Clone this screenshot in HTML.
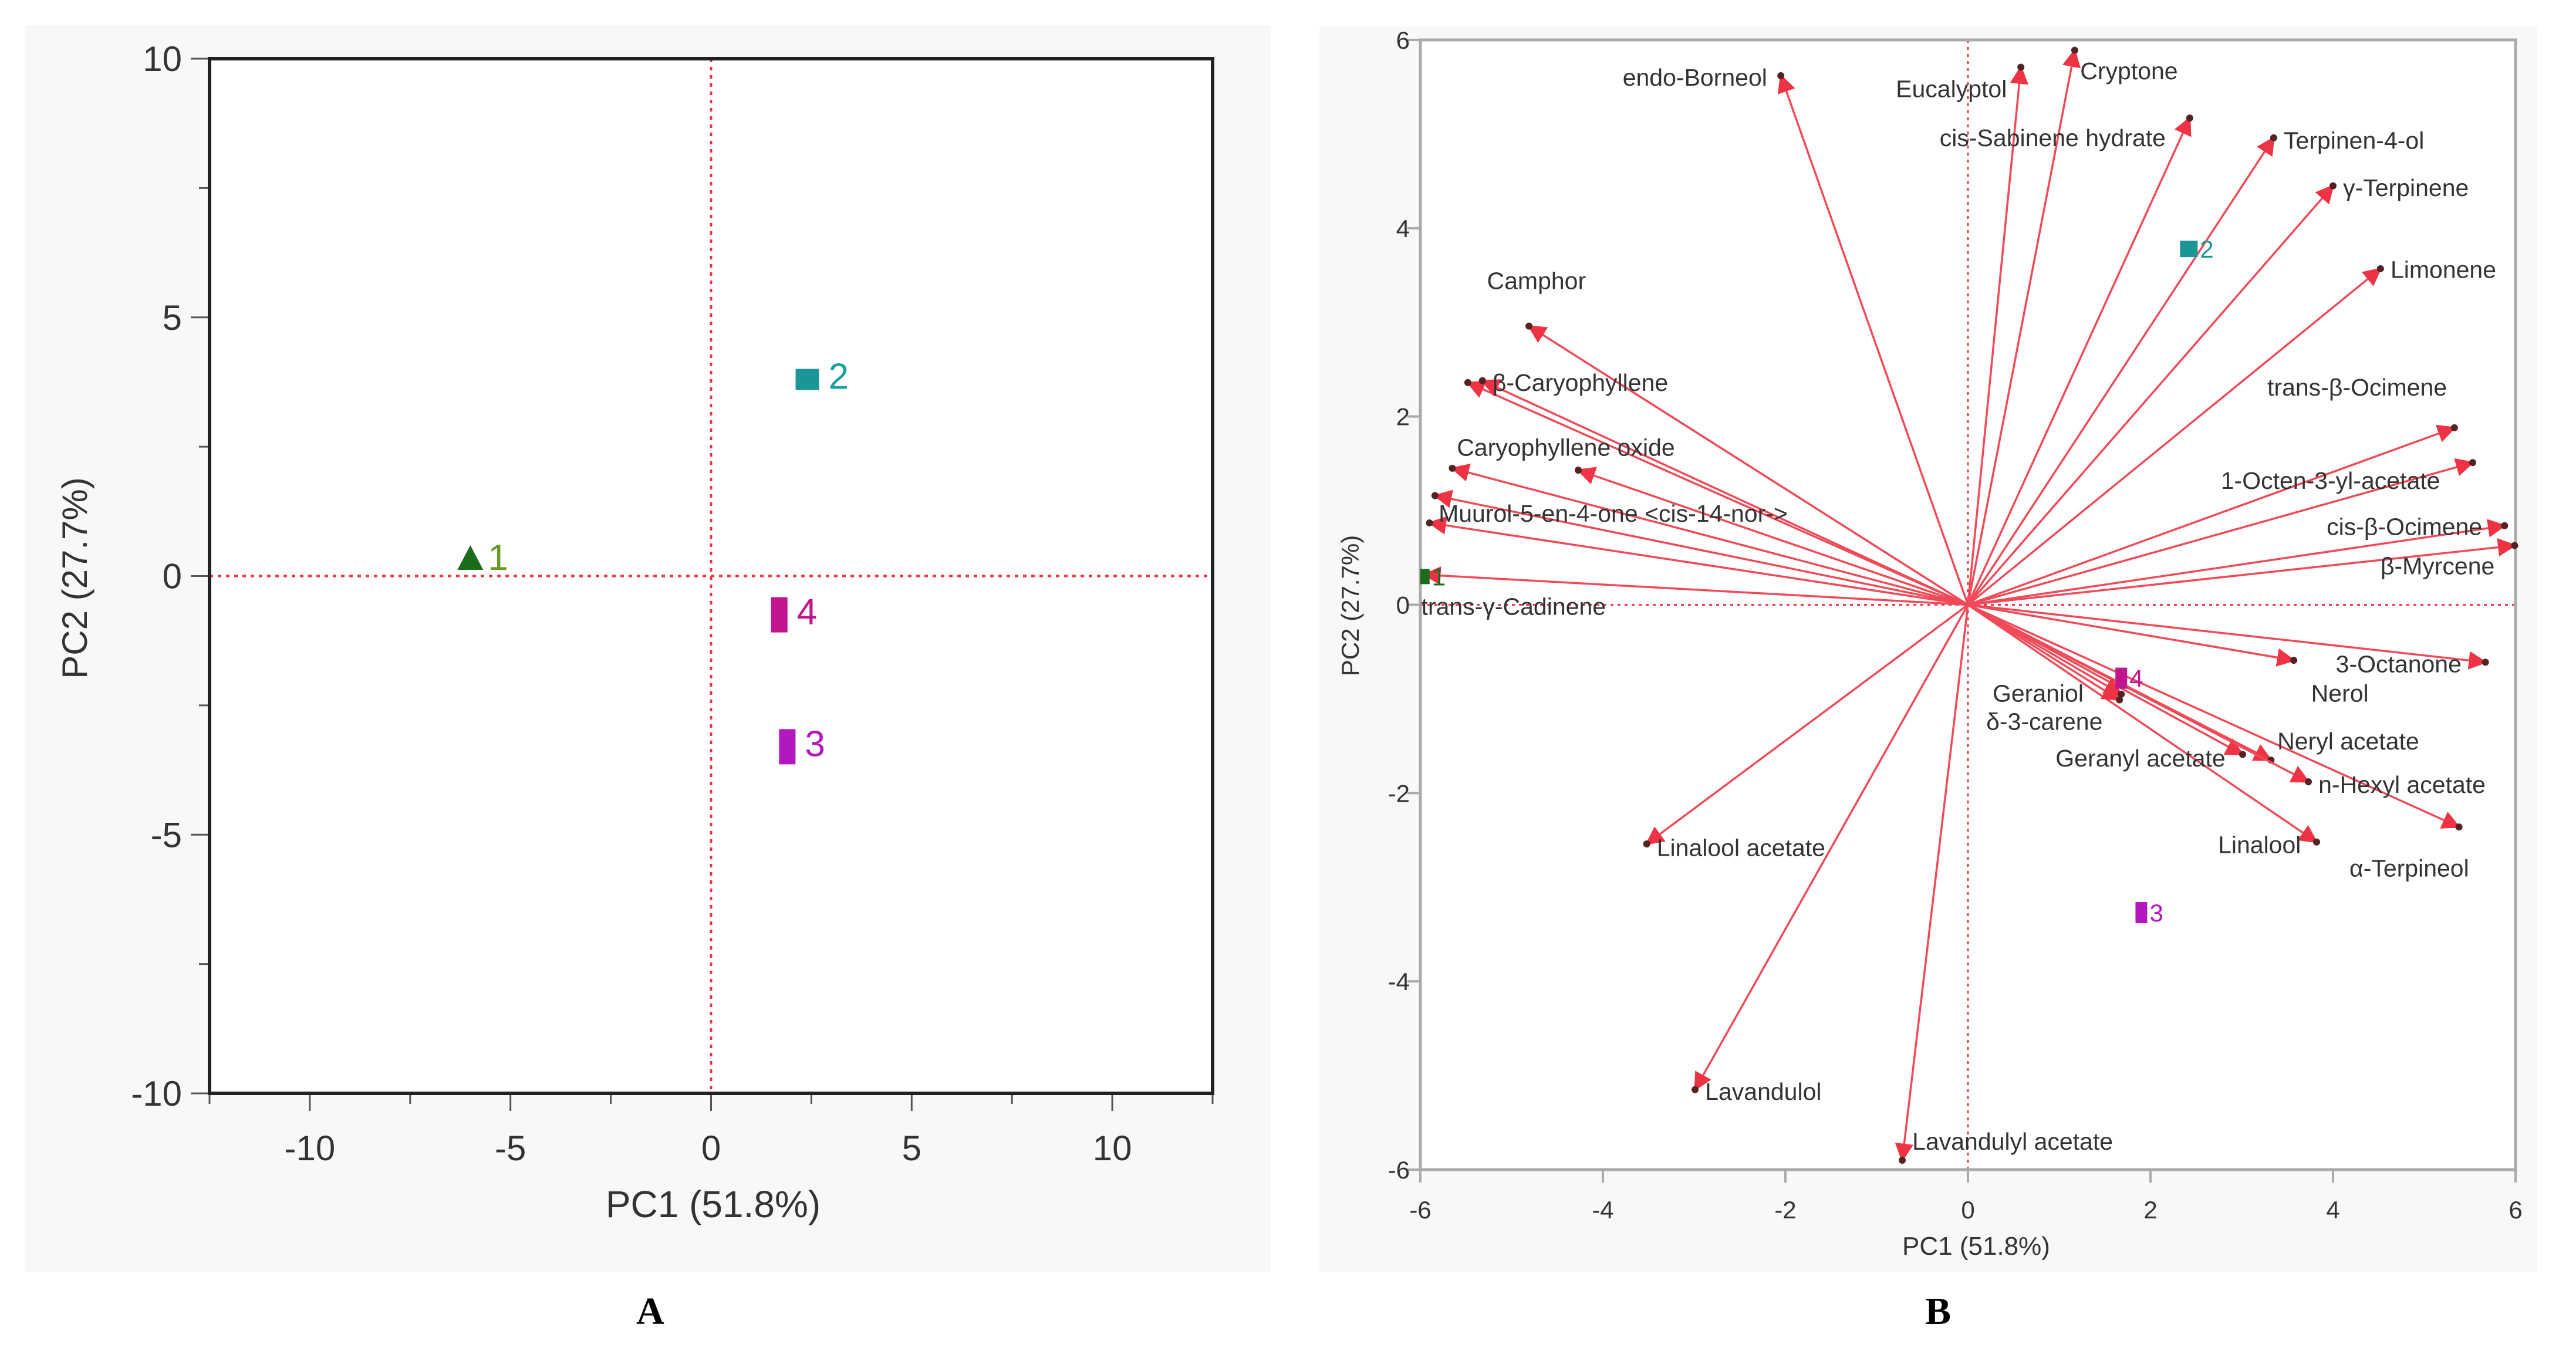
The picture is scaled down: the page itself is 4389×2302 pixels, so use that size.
<!DOCTYPE html>
<html><head><meta charset="utf-8"><style>
html,body{margin:0;padding:0;background:#fff}
svg{display:block}
text{font-family:"Liberation Sans","DejaVu Sans",sans-serif;fill:#333}
</style></head><body>
<svg id="fig" width="4389" height="2302" viewBox="0 0 4389 2302" xmlns="http://www.w3.org/2000/svg">
<defs>
<marker id="ah" viewBox="0 0 10 10" refX="9" refY="5" markerWidth="9" markerHeight="9" markerUnits="strokeWidth" orient="auto"><path d="M0,0 L10,5 L0,10 z" fill="#ee3344"/></marker>
</defs>
<rect x="42" y="43" width="2123" height="2124" fill="#f8f8f8"/>
<rect x="2248" y="45" width="2075" height="2122" fill="#f8f8f8"/>
<g id="pa"></g>
<g id="pb"></g>
<text x="1108" y="2256" text-anchor="middle" style="font-family:'Liberation Serif',serif;font-weight:bold;font-size:66px;fill:#000">A</text>
<text x="3302" y="2256" text-anchor="middle" style="font-family:'Liberation Serif',serif;font-weight:bold;font-size:66px;fill:#000">B</text>
</svg>
<script>
// Panel A data
const scoreIds = ["1","2","3","4"];
const scorePC1 = [-6.0, 2.4, 1.9, 1.7];
const scorePC2 = [0.3, 3.8, -3.3, -0.75];
const scoreColors = ["#1b6b1b","#1a9696","#b318c0","#c0158f"];
const labelColorsA = ["#6a9a20","#1aa0a0","#b318c0","#c0158f"];
const ticksA_x = [-10,-5,0,5,10];
const ticksA_y = [-10,-5,0,5,10];
// Panel B data
const loadNames = ["endo-Borneol","Eucalyptol","Cryptone","cis-Sabinene hydrate","Terpinen-4-ol","γ-Terpinene","Limonene","trans-β-Ocimene","1-Octen-3-yl-acetate","cis-β-Ocimene","β-Myrcene","3-Octanone","Nerol","Neryl acetate","Geranyl acetate","n-Hexyl acetate","α-Terpineol","Linalool","Geraniol","δ-3-carene","Lavandulyl acetate","Lavandulol","Linalool acetate","trans-γ-Cadinene","Muurol-5-en-4-one <cis-14-nor->","Caryophyllene oxide","β-Caryophyllene","Camphor","Caryophyllene oxide (2)","β-Caryophyllene (2)","unlabeled"];
const loadPC1 = [-2.05,0.58,1.17,2.43,3.35,4.0,4.52,5.33,5.53,5.88,5.99,5.67,3.57,3.32,3.01,3.73,5.38,3.82,1.66,1.68,-0.72,-2.99,-3.52,-5.96,-5.90,-5.65,-5.48,-4.81,-4.27,-5.32,-5.84];
const loadPC2 = [5.62,5.71,5.89,5.17,4.96,4.45,3.57,1.88,1.51,0.84,0.63,-0.61,-0.59,-1.65,-1.59,-1.88,-2.36,-2.52,-1.01,-0.95,-5.9,-5.15,-2.54,0.32,0.87,1.45,2.36,2.96,1.43,2.38,1.16];
const labelText = ["endo-Borneol","Eucalyptol","Cryptone","cis-Sabinene hydrate","Terpinen-4-ol","γ-Terpinene","Limonene","trans-β-Ocimene","1-Octen-3-yl-acetate","cis-β-Ocimene","β-Myrcene","3-Octanone","Nerol","Neryl acetate","Geranyl acetate","n-Hexyl acetate","α-Terpineol","Linalool","Geraniol","δ-3-carene","Lavandulyl acetate","Lavandulol","Linalool acetate","trans-γ-Cadinene","Muurol-5-en-4-one <cis-14-nor->","Caryophyllene oxide","β-Caryophyllene","Camphor"];
const labelX = [-2.2,-0.79,1.23,-0.31,3.46,4.11,4.63,3.28,2.77,3.93,4.52,4.03,3.76,3.39,0.96,3.84,4.18,2.74,0.27,0.20,-0.61,-2.88,-3.41,-5.99,-5.80,-5.60,-5.21,-5.27];
const labelY = [5.6,5.48,5.67,4.96,4.93,4.43,3.56,2.31,1.32,0.83,0.41,-0.63,-0.94,-1.45,-1.63,-1.91,-2.80,-2.55,-0.94,-1.24,-5.70,-5.17,-2.58,-0.02,0.97,1.67,2.36,3.44];
const ticksB = [-6,-4,-2,0,2,4,6];

const NS="http://www.w3.org/2000/svg";
function mk(parent,tag,attrs,txt){const e=document.createElementNS(NS,tag);for(const k in attrs)e.setAttribute(k,attrs[k]);if(txt!==undefined)e.textContent=txt;parent.appendChild(e);return e;}

// ---------- Panel A ----------
const ga=document.getElementById('pa');
const AL=357,AR=2066,AT=100,AB=1863;
const ax=v=>AL+(v+12.5)/25*(AR-AL);
const ay=v=>AT+(10-v)/20*(AB-AT);
let e;
e=mk(ga,'rect',{x:AL,y:AT,width:AR-AL,height:AB-AT,fill:'#fff',stroke:'none'});


for(let v=-12.5;v<=12.51;v+=2.5){const big=Math.abs(v%5)<0.01;
 e=mk(ga,'line',{x1:ax(v),x2:ax(v),y1:AB,y2:AB+(big?30:18),stroke:'#555','stroke-width':3});
 
 }
for(let v=-10;v<=10.01;v+=2.5){const big=Math.abs(v%5)<0.01;
 e=mk(ga,'line',{x1:AL-(big?32:18),x2:AL,y1:ay(v),y2:ay(v),stroke:'#555','stroke-width':3});
 
 }
ticksA_x.forEach(v=>{e=mk(ga,'text',{x:ax(v),y:1977,'text-anchor':'middle','font-size':60},String(v));
 
 });
ticksA_y.forEach(v=>{e=mk(ga,'text',{x:310,y:ay(v)+21,'text-anchor':'end','font-size':60},String(v));
 
 });
e=mk(ga,'line',{x1:AL,x2:AR,y1:ay(0),y2:ay(0),stroke:'#ee3344','stroke-width':4,'stroke-dasharray':'6,8'});


e=mk(ga,'line',{x1:ax(0),x2:ax(0),y1:AT,y2:AB,stroke:'#ee3344','stroke-width':4,'stroke-dasharray':'6,8'});


e=mk(ga,'rect',{x:AL,y:AT,width:AR-AL,height:AB-AT,fill:'none',stroke:'#222','stroke-width':6});


scoreIds.forEach((id,i)=>{const cx=ax(scorePC1[i]),cy=ay(scorePC2[i]);
 if(i===0){e=mk(ga,'polygon',{points:`${cx},${cy-26} ${cx-22},${cy+16} ${cx+22},${cy+16}`,fill:scoreColors[i]});}
 else if(i===1){e=mk(ga,'rect',{x:cx-20,y:cy-18,width:40,height:36,fill:scoreColors[i]});}
 else{e=mk(ga,'rect',{x:cx-14,y:cy-30,width:28,height:60,fill:scoreColors[i]});}
 
 
 e=mk(ga,'text',{x:cx+(i===1?36:30),y:cy+16,'font-size':62,style:'fill:'+labelColorsA[i]},id);
 
 });
e=mk(ga,'text',{x:1215,y:2074,'text-anchor':'middle','font-size':64},'PC1  (51.8%)');


e=mk(ga,'text',{x:0,y:0,'text-anchor':'middle','font-size':60,transform:'translate(148,985) rotate(-90)'},'PC2  (27.7%)');



// ---------- Panel B ----------
const gb=document.getElementById('pb');
const BL=2420,BR=4286,BT=68,BB=1993;
const bx=v=>BL+(v+6)/12*(BR-BL);
const by=v=>BT+(6-v)/12*(BB-BT);
e=mk(gb,'rect',{x:BL,y:BT,width:BR-BL,height:BB-BT,fill:'#fff'});


ticksB.forEach(v=>{
 e=mk(gb,'line',{x1:bx(v),x2:bx(v),y1:BB,y2:BB+22,stroke:'#aaa','stroke-width':4});
 
 
 e=mk(gb,'line',{x1:BL-22,x2:BL,y1:by(v),y2:by(v),stroke:'#aaa','stroke-width':4});
 
 
 e=mk(gb,'text',{x:bx(v),y:2076,'text-anchor':'middle','font-size':42},String(v));
 
 
 e=mk(gb,'text',{x:2402,y:by(v)+15,'text-anchor':'end','font-size':42},String(v));
 
 });
e=mk(gb,'line',{x1:BL,x2:BR,y1:by(0),y2:by(0),stroke:'#ee3344','stroke-width':3,'stroke-dasharray':'5,7'});


e=mk(gb,'line',{x1:bx(0),x2:bx(0),y1:BT,y2:BB,stroke:'#ee3344','stroke-width':3,'stroke-dasharray':'5,7'});


e=mk(gb,'rect',{x:BL,y:BT,width:BR-BL,height:BB-BT,fill:'none',stroke:'#aaa','stroke-width':5});


loadNames.forEach((n,i)=>{
 e=mk(gb,'line',{x1:bx(0),y1:by(0),x2:bx(loadPC1[i]),y2:by(loadPC2[i]),stroke:'#f04a58','stroke-width':3.5,'marker-end':'url(#ah)'});
 
 
 e=mk(gb,'circle',{cx:bx(loadPC1[i]),cy:by(loadPC2[i]),r:6,fill:'#552222'});
 
 });
labelText.forEach((t,i)=>{
 const anchor=i===0?'end':'start';
 e=mk(gb,'text',{x:bx(labelX[i]),y:by(labelY[i])+14,'text-anchor':anchor,'font-size':41},t);
 
 });
const bpts=[[-5.95,0.3,'#1b6b1b','1',16,26],[2.42,3.78,'#1a9696','2',30,28],[1.9,-3.27,'#b318c0','3',20,36],[1.68,-0.78,'#c0158f','4',20,36]];
bpts.forEach(p=>{const cx=bx(p[0]),cy=by(p[1]);
 e=mk(gb,'rect',{x:cx-p[4]/2,y:cy-p[5]/2,width:p[4],height:p[5],fill:p[2]});
 
 
 e=mk(gb,'text',{x:cx+p[4]/2+4,y:cy+15,'font-size':42,style:'fill:'+p[2]},p[3]);
 
 });
e=mk(gb,'text',{x:3367,y:2138,'text-anchor':'middle','font-size':44},'PC1  (51.8%)');


e=mk(gb,'text',{x:0,y:0,'text-anchor':'middle','font-size':42,transform:'translate(2315,1032) rotate(-90)'},'PC2  (27.7%)');


</script>
</body></html>
